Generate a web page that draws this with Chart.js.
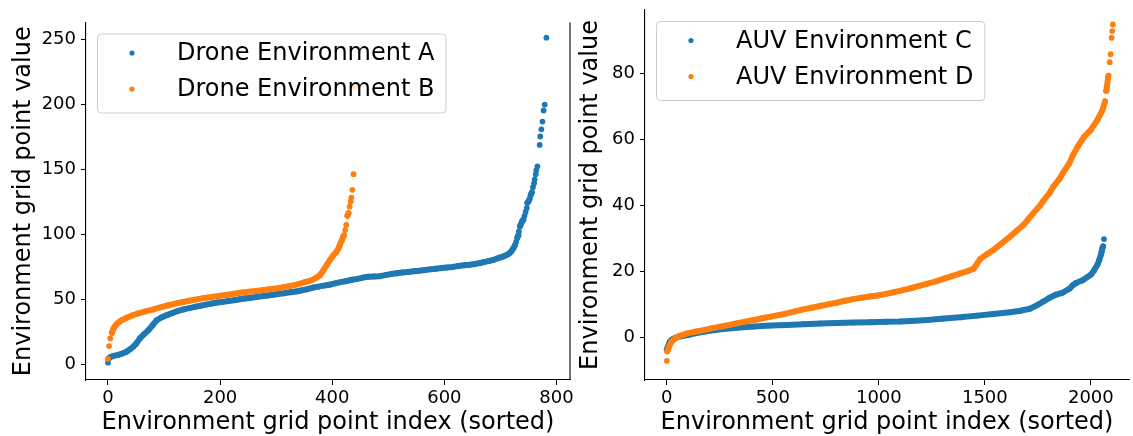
<!DOCTYPE html>
<html>
<head>
<meta charset="utf-8">
<script src="https://cdn.jsdelivr.net/npm/chart.js@4"></script>
<style>
  html, body { margin: 0; padding: 0; background: #fff; }
  #wrap { position: relative; width: 1133px; height: 436px; overflow: hidden; }
  .box { position: absolute; top: 0; }
  #leftBox { left: 0; }
  #rightBox { left: 570px; }
</style>
</head>
<body>
<div id="wrap">
  <div class="box" id="leftBox"><canvas id="droneChart" width="590" height="436"></canvas></div>
  <div class="box" id="rightBox"><canvas id="auvChart" width="563" height="436"></canvas></div>
</div>
<script>
const droneAIdx = [0,2,5,10,18,25,33,40,45,50,57,64,72,80,87,95,105,115,125,135,
  145,155,165,175,185,195,205,215,225,235,244,255,265,274,285,295,305,315,325,335,
  345,355,366,375,385,395,405,415,426,435,445,455,465,475,485,495,505,515,525,535,
  545,555,565,575,585,595,604,615,625,635,645,655,664,672,680,687,693,700,705,710,
  714,717,720,723,726,728,730,732,733,735,737,739,741,743,745,747,748,750,752,754,
  756,758,760,761,763,764,766,770,771,773,775,777,779,782];
const droneAVal = [1,4.5,5.5,6.2,7,8,9.4,11.5,13.3,15.5,19.7,22.8,26,30,33.7,35.8,37.6,39.3,40.9,42,
  43,44,44.8,45.7,46.5,47.3,47.8,48.5,49.1,49.8,50.4,51,51.6,52.1,52.7,53.3,54,54.5,55.2,55.8,
  56.6,57.5,58.8,59.5,60.3,61,62,63,63.9,64.8,65.5,66.5,67.2,67.4,67.6,68.4,69.2,69.8,70.4,70.8,
  71.3,71.7,72.3,72.8,73.3,73.8,74.2,74.7,75.4,75.9,76.4,77,77.7,78.6,79.3,80,81,82,82.7,83.6,
  84.5,85.5,87,89,91.5,94,97,99,102,106,108,110,111,114,117,120,124,125,127,130,
  132,136,139,142,146,149,152,168.5,175,180.5,186.5,195,199.6,251];

const droneBIdx = [0,2,4,7,10,14,18,25,33,43,54,67,81,95,108,120,132,143,155,170,
  185,200,214,227,240,255,265,274,285,297,310,320,330,340,350,360,366,372,378,384,
  390,396,402,407,411,414,417,419,421,423,425,427,429,431,433,434,436,438,440];
const droneBVal = [4,13.8,19.7,24,27.4,30,31.7,33.8,35.5,37.3,38.9,40.5,42,43.7,45.2,46.5,47.5,48.5,49.5,50.6,
  51.6,52.5,53.3,54.2,55,55.7,56.2,56.7,57.3,58,58.8,59.6,60.5,61.5,62.8,64,65,66.5,68.3,72,
  76,80,83.6,86,88.7,92,95,97.5,99,103,107,114,116,121,125,128,134,146,213];

const auvCIdx = [0,3,8,14,25,37,60,100,140,178,220,256,330,411,490,567,645,723,800,879,
  960,1034,1100,1151,1230,1307,1385,1463,1540,1618,1670,1712,1745,1774,1805,1837,1868,1900,1915,1930,
  1961,2000,2015,2031,2040,2047,2051,2055,2058,2062];
const auvCVal = [-3.6,-3.2,-2.3,-1.3,-0.6,-0.2,0.3,0.75,1.3,1.8,2.2,2.5,2.9,3.3,3.6,3.8,4.0,4.2,4.35,4.5,
  4.6,4.75,4.85,5.0,5.3,5.7,6.1,6.6,7.1,7.6,8.1,8.7,9.7,10.8,12.0,13.0,13.6,14.8,15.8,16.5,
  17.3,19.0,20.3,22,23.5,25,26,27.2,27.6,29.8];

const auvDIdx = [0,2,6,12,22,35,53,75,100,140,178,215,256,295,333,370,411,450,489,530,
  567,605,644,683,723,760,800,840,879,917,956,995,1034,1070,1104,1151,1190,1230,1270,1307,
  1345,1385,1420,1447,1462,1478,1510,1541,1580,1618,1650,1681,1705,1728,1759,1774,1805,1821,1852,1868,
  1899,1914,1938,1969,2000,2031,2055,2067,2072,2075,2083,2089,2093,2098,2101,2104];
const auvDVal = [-7.1,-4.2,-3.6,-2.5,-1.3,-0.5,0.25,0.8,1.3,1.8,2.3,2.8,3.3,3.8,4.3,4.8,5.3,5.8,6.3,6.8,
  7.3,7.9,8.5,9.0,9.5,10.0,10.5,11.1,11.6,12.0,12.4,12.7,13.2,13.7,14.2,14.9,15.6,16.3,17.0,17.8,
  18.6,19.4,20.1,20.8,22.2,23.8,25.2,26.5,28.5,30.5,32.3,34.0,35.8,37.6,39.8,41.2,43.7,45.5,48.0,49.8,
  52.8,55.0,57.8,60.8,62.9,65.9,68.9,71.5,74.7,75.8,79.3,83.4,85.8,90.8,92.8,94.8];

const droneXTicks = [0, 200, 400, 600, 800];
const droneYTicks = [0, 50, 100, 150, 200, 250];
const auvXTicks = [0, 500, 1000, 1500, 2000];
const auvYTicks = [0, 20, 40, 60, 80];

const FONT = 'DejaVu Sans';
const BLUE = '#1f77b4';
const ORANGE = '#ff7f0e';

function toPoints(xs, ys) {
    return xs.map((x, i) => ({ x: x, y: ys[i] }));
}

// the joining line stands in for the packed dots; drop it where the real dots spread apart
function gapColor(ctx) {
    const data = ctx.chart.data.datasets[ctx.datasetIndex].data;
    const steps = Math.max(data[ctx.p1DataIndex].x - data[ctx.p0DataIndex].x, 1);
    const d = Math.hypot(ctx.p1.x - ctx.p0.x, ctx.p1.y - ctx.p0.y);
    return d / steps > 1.6 ? 'rgba(0,0,0,0)' : undefined;
}

function series(label, xs, ys, color, order) {
    return {
        label: label,
        data: toPoints(xs, ys),
        order: order,
        showLine: true,
        borderColor: color,
        borderWidth: 6,
        borderCapStyle: 'round',
        borderJoinStyle: 'round',
        backgroundColor: color,
        pointBackgroundColor: color,
        pointRadius: 2.9,
        pointBorderWidth: 0,
        segment: { borderColor: gapColor }
    };
}

function axes(xr, xTicks, yr, yTicks, yWidth, yTitlePad) {
    const tickFont = { family: FONT, size: 18 };
    const titleFont = { family: FONT, size: 24 };
    const grid = { drawOnChartArea: false, drawTicks: true, tickLength: 5, color: '#000', lineWidth: 1 };
    const border = { display: true, color: '#000', width: 1.1 };
    return {
        x: {
            type: 'linear', min: xr[0], max: xr[1],
            afterBuildTicks: s => { s.ticks = xTicks.map(v => ({ value: v })); },
            afterFit: s => { s.height = 56; s.paddingLeft = 0; s.paddingRight = 0; },
            grid: grid, border: border,
            ticks: { font: tickFont, color: '#000', padding: 3, maxRotation: 0, autoSkip: false, callback: v => String(v) },
            title: { display: true, text: 'Environment grid point index (sorted)', font: titleFont, color: '#000', padding: { top: 0, bottom: -1.5 } }
        },
        y: {
            type: 'linear', min: yr[0], max: yr[1],
            afterBuildTicks: s => { s.ticks = yTicks.map(v => ({ value: v })); },
            afterFit: s => { s.width = yWidth; s.paddingTop = 0; s.paddingBottom = 0; },
            grid: grid, border: border,
            ticks: { font: tickFont, color: '#000', padding: 5, autoSkip: false, callback: v => String(v) },
            title: { display: true, text: 'Environment grid point value', font: titleFont, color: '#000', padding: { top: yTitlePad, bottom: 0 } }
        }
    };
}

// matplotlib style legend box in the upper left of the plot area
const insetLegend = {
    id: 'insetLegend',
    afterDraw(chart) {
        const { ctx, chartArea } = chart;
        const sets = chart.data.datasets;
        ctx.save();
        ctx.font = '24px "DejaVu Sans"';
        const textW = Math.max(...sets.map(s => ctx.measureText(s.label).width));
        const x = chartArea.left + 11;
        const y = chartArea.top + 11;
        ctx.beginPath();
        ctx.roundRect(x + 0.5, y + 0.5, 80 + textW + 11, 79, 4);
        ctx.fillStyle = 'rgba(255,255,255,0.8)';
        ctx.fill();
        ctx.strokeStyle = '#cccccc';
        ctx.lineWidth = 1;
        ctx.stroke();
        sets.forEach((s, i) => {
            const cy = y + 19.5 + i * 36;
            ctx.beginPath();
            ctx.arc(x + 35, cy, 2.6, 0, Math.PI * 2);
            ctx.fillStyle = s.backgroundColor;
            ctx.fill();
            ctx.fillStyle = '#000';
            ctx.textBaseline = 'middle';
            ctx.fillText(s.label, x + 80, cy + 1);
        });
        ctx.restore();
    }
};

const rightSpine = {
    id: 'rightSpine',
    afterDraw(chart) {
        const { ctx, chartArea } = chart;
        ctx.save();
        ctx.strokeStyle = '#000';
        ctx.lineWidth = 1.1;
        ctx.beginPath();
        ctx.moveTo(chartArea.right, chartArea.top);
        ctx.lineTo(chartArea.right, chartArea.bottom);
        ctx.stroke();
        ctx.restore();
    }
};

const common = {
    responsive: false,
    animation: false,
    events: [],
    plugins: { legend: { display: false }, tooltip: { enabled: false } }
};

new Chart(document.getElementById('droneChart'), {
    type: 'scatter',
    data: {
        datasets: [
            series('Drone Environment A', droneAIdx, droneAVal, BLUE, 1),
            series('Drone Environment B', droneBIdx, droneBVal, ORANGE, 0)
        ]
    },
    options: Object.assign({}, common, {
        layout: { padding: { top: 22.5, right: 20, bottom: 0, left: 0 } },
        scales: axes([-39.2, 824.1], droneXTicks, [-12.3, 262.7], droneYTicks, 86, 9)
    }),
    plugins: [rightSpine, insetLegend]
});

new Chart(document.getElementById('auvChart'), {
    type: 'scatter',
    data: {
        datasets: [
            series('AUV Environment C', auvCIdx, auvCVal, BLUE, 1),
            series('AUV Environment D', auvDIdx, auvDVal, ORANGE, 0)
        ]
    },
    options: Object.assign({}, common, {
        layout: { padding: { top: 10, right: 0, bottom: 0, left: 0 } },
        scales: axes([-103, 2180], auvXTicks, [-12.9, 99.2], auvYTicks, 75, 6.6)
    }),
    plugins: [insetLegend]
});
</script>
</body>
</html>
